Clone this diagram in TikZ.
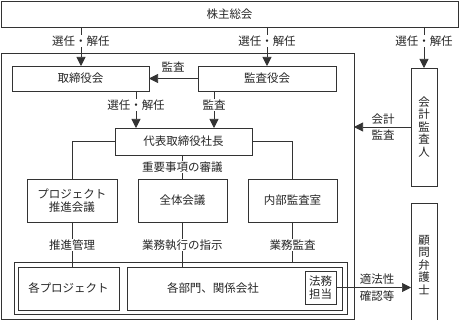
\documentclass[tikz,border=0pt]{standalone}
\usepackage{fontspec}
\newfontfamily\jp{Noto Sans CJK JP}
\usetikzlibrary{arrows.meta}
\begin{document}
\begin{tikzpicture}[x=1pt,y=-1pt,
  every node/.style={font=\jp\fontsize{11.5}{12.5}\selectfont, text=black!85},
  box/.style={draw=black!80, line width=0.7pt, inner sep=0pt, outer sep=0pt, align=center},
  ln/.style={draw=black!80, line width=0.7pt},
  arr/.style={ln, -{Triangle[length=9pt,width=9pt]}},
  lbl/.style={fill=white, inner sep=1pt},
  plain/.style={inner sep=0pt}]
\useasboundingbox (0,0) rectangle (459,320);
% boxes
\node[box, minimum width=457pt, minimum height=26pt] (kabu) at (229.5,14) {株主総会};
\node[box, minimum width=353pt, minimum height=266pt] (outer) at (177.5,186) {};
\node[box, minimum width=137pt, minimum height=25pt] (tori) at (80.5,78.5) {取締役会};
\node[box, minimum width=138pt, minimum height=25pt] (kansa) at (267,78.5) {監査役会};
\node[box, minimum width=137pt, minimum height=27pt] (daihyo) at (183.5,141.5) {代表取締役社長};
\node[box, minimum width=90pt, minimum height=43pt] (proj) at (72,200.5) {プロジェクト\\推進会議};
\node[box, minimum width=89pt, minimum height=43pt] (zentai) at (182.5,200.5) {全体会議};
\node[box, minimum width=89pt, minimum height=43pt] (naibu) at (292.5,200.5) {内部監査室};
\node[box, minimum width=333pt, minimum height=52pt] (frame) at (180.5,288) {};
\node[box, minimum width=101pt, minimum height=43pt] (kakup) at (68.5,288.5) {各プロジェクト};
\node[box, minimum width=215pt, minimum height=43pt] (kakub) at (234.5,288.5) {};
\node[plain] (kakubt) at (213,288.5) {各部門、関係会社};
\node[box, minimum width=31pt, minimum height=33pt] (houmu) at (320.5,287.5) {法務\\担当};
\node[box, minimum width=26pt, minimum height=118pt] (kaikei) at (424,127) {会\\計\\監\\査\\人};
\node[box, minimum width=26pt, minimum height=117pt] (komon) at (424,262) {};
\node[plain, align=center] (komont) at (424,265) {顧\\問\\弁\\護\\士};
% helper coordinates
\coordinate (x136) at (136,0);
\coordinate (x214) at (214,0);
\coordinate (x81) at (81,0);
% connectors
\draw[arr] (kabu.south -| x81) -- (tori.north -| x81);
\draw[arr] (kabu.south -| kansa.north) -- (kansa.north);
\draw[arr] (kabu.south -| kaikei.north) -- (kaikei.north);
\draw[arr] (kansa.west) -- (tori.east);
\draw[arr] (tori.south -| x136) -- (daihyo.north -| x136);
\draw[arr] (kansa.south -| x214) -- (daihyo.north -| x214);
\draw[ln] (daihyo.west) -| (proj.north);
\draw[ln] (daihyo.east) -| (naibu.north);
\draw[ln] (daihyo.south -| zentai.north) -- (zentai.north);
\draw[ln] (proj.south) -- (kakup.north -| proj.south);
\draw[ln] (zentai.south) -- (kakub.north -| zentai.south);
\draw[ln] (naibu.south) -- (frame.north -| naibu.south);
\draw[arr] (kaikei.west) -- (kaikei.west -| outer.east);
\draw[arr] (houmu.east) -- (houmu.east -| komon.west);
% labels
\node[lbl] (l1) at (81,41) {選任・解任};
\node[lbl] (l2) at (267,41) {選任・解任};
\node[lbl] (l3) at (424,41) {選任・解任};
\node[plain] (l4) at (173,67) {監査};
\node[lbl] (l5) at (136,105) {選任・解任};
\node[lbl] (l6) at (214,105) {監査};
\node[lbl] (l7) at (182.5,167) {重要事項の審議};
\node[lbl] (l8) at (72,245) {推進管理};
\node[lbl] (l9) at (182.5,245) {業務執行の指示};
\node[lbl] (l10) at (292.5,245) {業務監査};
\node[plain] (l11) at (383,119) {会計};
\node[plain] (l12) at (383,135.5) {監査};
\node[plain] (l13) at (377,279.5) {適法性};
\node[plain] (l14) at (377,296) {確認等};
\end{tikzpicture}
\end{document}
